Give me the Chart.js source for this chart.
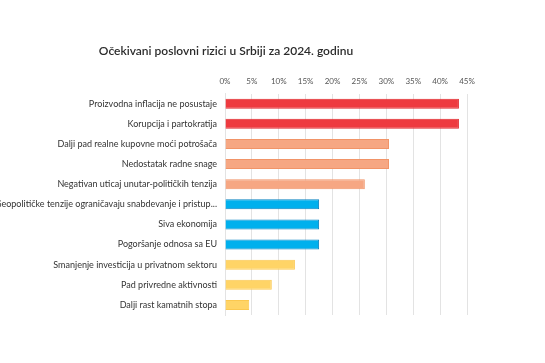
<!DOCTYPE html>
<html>
<head>
<meta charset="utf-8">
<script src="https://cdn.jsdelivr.net/npm/chart.js@4"></script>
<style>
  html, body { margin: 0; padding: 0; background: #fff; }
  #wrap { width: 545px; height: 363px; }
</style>
</head>
<body>
<div id="wrap"><canvas id="grafica"></canvas></div>
<script>
// Kategorije i vrednosti (procenat ispitanika)
const rizici = [
  "Proizvodna inflacija ne posustaje",
  "Korupcija i partokratija",
  "Dalji pad realne kupovne moći potrošača",
  "Nedostatak radne snage",
  "Negativan uticaj unutar-političkih tenzija",
  "Geopolitičke tenzije ograničavaju snabdevanje i pristup...",
  "Siva ekonomija",
  "Pogoršanje odnosa sa EU",
  "Smanjenje investicija u privatnom sektoru",
  "Pad privredne aktivnosti",
  "Dalji rast kamatnih stopa"
];
const procenti = [43.5, 43.5, 30.5, 30.5, 26, 17.5, 17.5, 17.5, 13, 8.7, 4.5];
const podeoci = [0, 5, 10, 15, 20, 25, 30, 35, 40, 45];
const naslov = "Očekivani poslovni rizici u Srbiji za 2024. godinu";

// boje po grupama
const boje = ['#ee3a3f', '#ee3a3f', '#f6a783', '#f6a783', '#f6a783', '#00b0ed', '#00b0ed', '#00b0ed', '#ffd466', '#ffd466', '#ffd466'];
const ivice = ['#e0282d', '#e0282d', '#f19468', '#f19468', '#f19468', '#0a84c2', '#0a84c2', '#0a84c2', '#fbc850', '#fbc850', '#fbc850'];

// naslov crtan rucno, centriran iznad levog dela
const naslovPlugin = {
  id: 'naslov',
  afterDraw(chart) {
    const ctx = chart.ctx;
    ctx.save();
    ctx.font = '600 12px Lato';
    ctx.fillStyle = '#2b2b2b';
    ctx.textAlign = 'center';
    ctx.textBaseline = 'middle';
    ctx.fillText(naslov, 226, 51);
    ctx.restore();
  }
};

const levo = 225;

new Chart(document.getElementById('grafica'), {
  type: 'bar',
  data: {
    labels: rizici,
    datasets: [{
      data: procenti,
      backgroundColor: boje,
      borderColor: ivice,
      borderWidth: 1,
      barPercentage: 0.5,
      categoryPercentage: 1
    }]
  },
  options: {
    indexAxis: 'y',
    responsive: true,
    maintainAspectRatio: false,
    animation: false,
    layout: { padding: { top: 70, right: 78, bottom: 48, left: 0 } },
    plugins: {
      legend: { display: false },
      tooltip: { enabled: false }
    },
    scales: {
      x: {
        position: 'top',
        min: 0,
        max: 45,
        afterBuildTicks(scale) {
          scale.ticks = podeoci.map(v => ({ value: v }));
        },
        ticks: {
          callback: v => v + '%',
          color: '#555',
          font: { family: 'Lato', size: 8 },
          padding: 7,
          maxRotation: 0
        },
        grid: { color: '#e3e3e3', drawTicks: false },
        border: { display: false }
      },
      y: {
        afterFit(scale) { scale.width = levo; },
        ticks: {
          color: '#333',
          font: { family: 'Lato', size: 9 },
          padding: 8,
          autoSkip: false
        },
        grid: { display: false, drawTicks: false },
        border: { color: '#e3e3e3' }
      }
    }
  },
  plugins: [naslovPlugin]
});
</script>
</body>
</html>
